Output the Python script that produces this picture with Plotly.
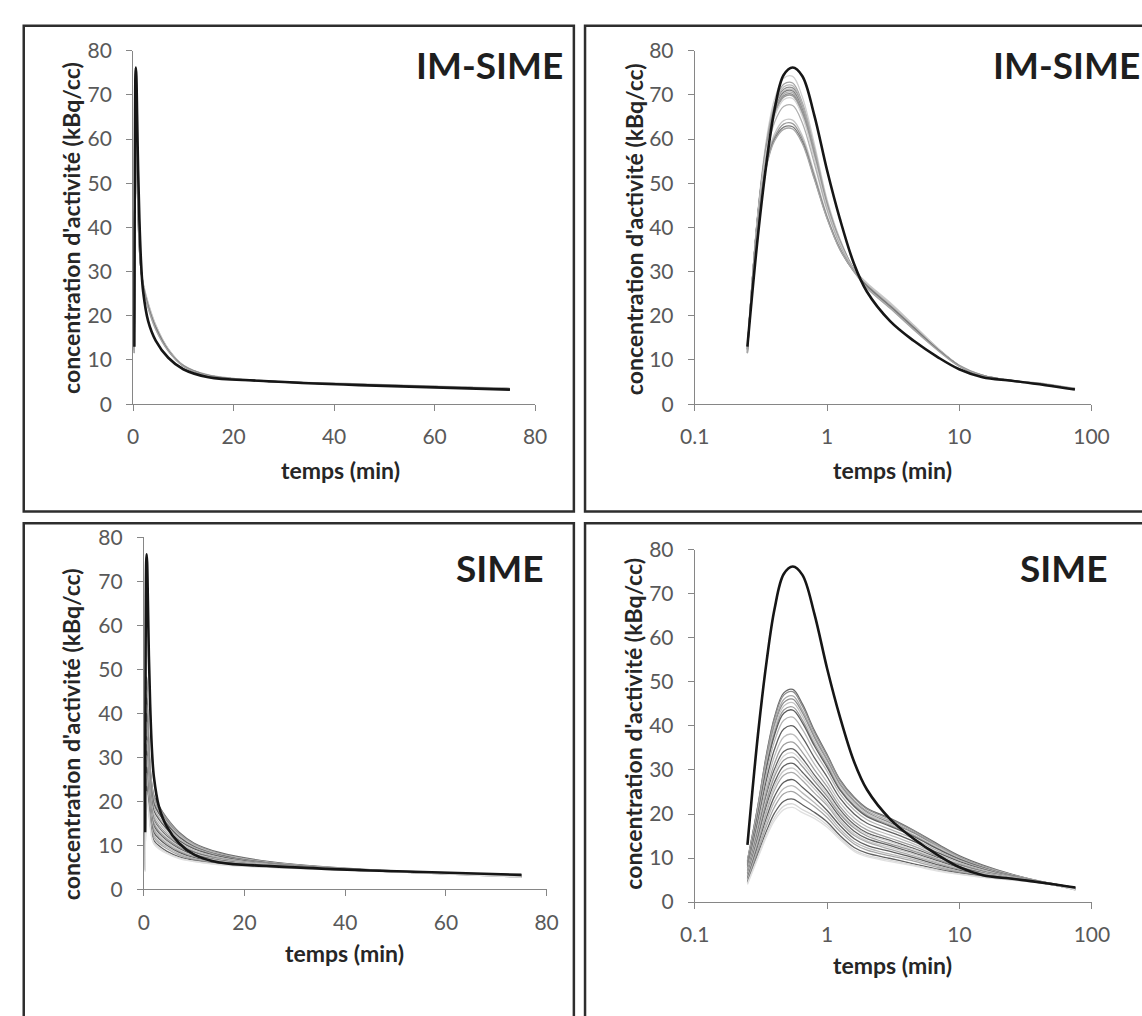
import plotly.graph_objects as go

W, H = 1142, 1016

# ---------------- data ----------------
time_min = [0.25, 0.3, 0.35, 0.4, 0.47, 0.55, 0.65, 0.8, 1.0, 1.25, 1.6, 2.0, 3.0, 4.5, 7.0, 10, 15, 25, 45, 75]

reference_curve = [13, 38, 55, 66.5, 74.5, 76.2, 74.3, 65.5, 53, 42, 31.8, 25.5, 18.8, 14.4, 10.5, 7.9, 6.1, 5.3, 4.3, 3.3]

ims_01 = [12.8, 43.5, 60.3, 68.9, 73.8, 74.2, 69.6, 59.1, 46.4, 37.5, 30.6, 27.5, 23.0, 18.0, 12.5, 8.8, 6.6, 5.4, 4.6, 3.6]
ims_02 = [12.6, 43.2, 59.5, 67.7, 72.4, 72.7, 68.3, 58.1, 45.8, 37.2, 30.5, 27.0, 22.3, 17.5, 12.3, 8.7, 6.5, 5.3, 4.5, 3.5]
ims_03 = [12.5, 43.1, 59.2, 67.2, 71.8, 72.1, 67.8, 57.7, 45.6, 37.1, 30.5, 27.2, 22.6, 17.7, 12.4, 8.7, 6.5, 5.3, 4.5, 3.5]
ims_04 = [12.5, 43.0, 58.9, 66.9, 71.3, 71.6, 67.3, 57.4, 45.4, 37.0, 30.5, 27.0, 22.3, 17.5, 12.3, 8.7, 6.5, 5.3, 4.5, 3.5]
ims_05 = [12.4, 42.9, 58.7, 66.6, 70.9, 71.2, 67.0, 57.1, 45.3, 36.9, 30.3, 26.5, 21.8, 17.0, 12.1, 8.6, 6.4, 5.2, 4.4, 3.4]
ims_06 = [12.4, 42.8, 58.5, 66.3, 70.6, 70.9, 66.7, 56.9, 45.2, 36.8, 30.5, 27.0, 22.3, 17.5, 12.3, 8.7, 6.5, 5.3, 4.5, 3.5]
ims_07 = [12.4, 42.7, 58.3, 66.0, 70.2, 70.5, 66.3, 56.6, 45.0, 36.7, 30.4, 27.1, 22.5, 17.7, 12.4, 8.8, 6.5, 5.3, 4.5, 3.5]
ims_08 = [12.3, 42.6, 58.1, 65.7, 69.8, 70.1, 66.0, 56.3, 44.9, 36.6, 30.4, 27.0, 22.3, 17.5, 12.3, 8.7, 6.5, 5.3, 4.5, 3.5]
ims_09 = [12.3, 42.6, 58.0, 65.4, 69.5, 69.8, 65.7, 56.1, 44.8, 36.6, 30.4, 26.8, 22.1, 17.3, 12.2, 8.7, 6.5, 5.3, 4.5, 3.5]
ims_10 = [12.2, 42.5, 57.6, 64.9, 68.9, 69.2, 65.2, 55.7, 44.5, 36.5, 30.4, 26.9, 22.3, 17.5, 12.3, 8.7, 6.5, 5.3, 4.5, 3.5]
ims_11 = [12.1, 42.1, 56.8, 63.7, 67.4, 67.6, 63.7, 54.6, 44.0, 36.1, 30.3, 26.9, 22.3, 17.5, 12.3, 8.7, 6.5, 5.3, 4.5, 3.5]
ims_12 = [11.7, 41.4, 55.1, 61.1, 64.2, 64.3, 60.8, 52.4, 42.7, 35.4, 30.1, 27.3, 22.8, 17.9, 12.5, 8.8, 6.6, 5.4, 4.6, 3.5]
ims_13 = [11.6, 41.3, 54.6, 60.4, 63.4, 63.5, 60.1, 51.8, 42.4, 35.3, 30.1, 26.8, 22.2, 17.4, 12.2, 8.7, 6.5, 5.3, 4.5, 3.4]
ims_14 = [11.6, 41.1, 54.3, 59.9, 62.7, 62.8, 59.5, 51.3, 42.2, 35.1, 30.0, 26.8, 22.2, 17.4, 12.2, 8.7, 6.5, 5.3, 4.5, 3.4]
ims_15 = [11.5, 41.0, 54.0, 59.5, 62.2, 62.3, 59.0, 51.0, 42.0, 35.0, 30.0, 26.3, 21.7, 16.9, 12.0, 8.6, 6.4, 5.2, 4.4, 3.4]

sime_01 = [9.5, 22.0, 34.0, 42.0, 47.5, 48.3, 45.0, 39.0, 33.5, 27.8, 23.8, 21.3, 19.0, 16.3, 13.0, 10.5, 8.4, 6.3, 4.5, 3.3]
sime_02 = [9.4, 21.8, 33.6, 41.6, 47.0, 47.8, 44.5, 38.6, 33.2, 27.6, 23.6, 21.1, 18.8, 16.2, 12.8, 10.3, 8.2, 6.2, 4.4, 3.3]
sime_03 = [9.2, 21.3, 32.9, 40.7, 46.0, 46.8, 43.6, 37.9, 32.5, 27.0, 23.1, 20.7, 18.4, 15.9, 12.6, 10.2, 8.1, 6.1, 4.4, 3.3]
sime_04 = [9.0, 21.0, 32.4, 40.1, 45.3, 46.1, 43.0, 37.4, 32.1, 26.7, 22.8, 20.4, 18.0, 15.7, 12.4, 10.1, 8.1, 6.1, 4.4, 3.3]
sime_05 = [8.9, 20.7, 31.9, 39.4, 44.5, 45.3, 42.2, 36.7, 31.7, 26.3, 22.5, 20.1, 17.7, 15.3, 12.3, 10.0, 8.0, 6.1, 4.4, 3.2]
sime_06 = [8.7, 20.2, 31.2, 38.5, 43.6, 44.3, 41.3, 36.0, 31.1, 25.7, 22.0, 19.7, 17.4, 15.1, 12.0, 9.8, 7.9, 6.0, 4.4, 3.2]
sime_07 = [8.5, 19.9, 30.7, 37.9, 42.9, 43.6, 40.7, 35.5, 30.6, 25.4, 21.7, 19.4, 17.2, 14.9, 11.9, 9.7, 7.8, 6.0, 4.4, 3.2]
sime_08 = [8.2, 19.2, 29.6, 36.5, 41.3, 42.0, 39.2, 34.3, 29.7, 24.6, 20.9, 18.7, 16.5, 14.4, 11.5, 9.5, 7.7, 5.9, 4.4, 3.2]
sime_09 = [7.8, 18.3, 28.1, 34.7, 39.3, 40.0, 37.4, 32.8, 28.4, 23.6, 20.0, 17.9, 15.9, 13.8, 11.1, 9.2, 7.5, 5.8, 4.3, 3.1]
sime_10 = [7.4, 17.5, 26.8, 33.1, 37.5, 38.1, 35.6, 31.4, 27.2, 22.6, 19.1, 17.1, 15.2, 13.2, 10.7, 8.9, 7.3, 5.7, 4.3, 3.1]
sime_11 = [7.0, 16.6, 25.5, 31.5, 35.7, 36.3, 34.0, 30.1, 26.2, 21.7, 18.3, 16.4, 14.5, 12.7, 10.3, 8.6, 7.1, 5.7, 4.3, 3.1]
sime_12 = [6.7, 16.0, 24.5, 30.2, 34.2, 34.8, 32.6, 28.9, 25.2, 21.0, 17.6, 15.7, 14.0, 12.2, 10.0, 8.4, 6.9, 5.6, 4.3, 3.0]
sime_13 = [6.5, 15.5, 23.8, 29.3, 33.2, 33.9, 31.7, 28.2, 24.6, 20.4, 17.2, 15.4, 13.7, 11.9, 9.8, 8.2, 6.8, 5.6, 4.3, 3.0]
sime_14 = [6.3, 15.1, 23.1, 28.5, 32.2, 32.9, 30.8, 27.5, 24.0, 20.0, 16.8, 15.0, 13.2, 11.6, 9.6, 8.0, 6.7, 5.5, 4.3, 3.0]
sime_15 = [6.0, 14.5, 22.1, 27.2, 30.9, 31.5, 29.5, 26.5, 23.2, 19.3, 16.1, 14.4, 12.8, 11.2, 9.3, 7.8, 6.6, 5.4, 4.3, 3.0]
sime_16 = [5.8, 14.0, 21.3, 26.3, 29.8, 30.4, 28.5, 25.7, 22.4, 18.7, 15.5, 13.9, 12.4, 10.9, 9.0, 7.6, 6.5, 5.4, 4.3, 3.0]
sime_17 = [5.6, 13.5, 20.6, 25.4, 28.8, 29.4, 27.6, 24.8, 21.9, 18.2, 15.1, 13.6, 12.0, 10.5, 8.7, 7.5, 6.4, 5.4, 4.3, 2.9]
sime_18 = [5.3, 12.8, 19.4, 24.0, 27.2, 27.8, 26.1, 23.7, 20.8, 17.4, 14.4, 12.9, 11.5, 10.1, 8.4, 7.2, 6.2, 5.3, 4.2, 2.9]
sime_19 = [5.0, 12.2, 18.5, 22.8, 25.8, 26.4, 24.8, 22.6, 20.0, 16.6, 13.7, 12.3, 10.9, 9.7, 8.1, 7.0, 6.1, 5.2, 4.2, 2.9]
sime_20 = [4.7, 11.6, 17.5, 21.6, 24.6, 25.1, 23.6, 21.7, 19.2, 16.0, 13.2, 11.8, 10.5, 9.3, 7.8, 6.8, 6.0, 5.2, 4.2, 2.9]
sime_21 = [4.4, 10.9, 16.3, 20.2, 22.9, 23.4, 22.1, 20.4, 18.2, 15.1, 12.4, 11.1, 9.9, 8.7, 7.4, 6.6, 5.8, 5.1, 4.2, 2.8]
sime_22 = [4.2, 10.4, 15.6, 19.2, 21.8, 22.3, 21.0, 19.6, 17.5, 14.6, 11.8, 10.6, 9.5, 8.4, 7.2, 6.4, 5.7, 5.0, 4.2, 2.8]
sime_23 = [4.0, 10.0, 15.0, 18.5, 21.0, 21.5, 20.3, 19.0, 17.0, 14.2, 11.5, 10.3, 9.2, 8.2, 7.0, 6.3, 5.6, 5.0, 4.2, 2.8]

ims_curves = [ims_01, ims_02, ims_03, ims_04, ims_05, ims_06, ims_07, ims_08,
              ims_09, ims_10, ims_11, ims_12, ims_13, ims_14, ims_15]
sime_curves = [sime_01, sime_02, sime_03, sime_04, sime_05, sime_06, sime_07, sime_08,
               sime_09, sime_10, sime_11, sime_12, sime_13, sime_14, sime_15, sime_16,
               sime_17, sime_18, sime_19, sime_20, sime_21, sime_22, sime_23]

panel_labels = ["IM-SIME", "SIME"]
x_title = "temps (min)"
y_title = "concentration d'activité (kBq/cc)"
lin_ticks = [0, 20, 40, 60, 80]
log_ticks = [0.1, 1, 10, 100]
log_ticktext = ["0.1", "1", "10", "100"]
y_ticks = [0, 10, 20, 30, 40, 50, 60, 70, 80]

# ---------------- styles ----------------
ims_colors = ["#cfcfcf", "#a3a3a3", "#b8b8b8", "#8e8e8e", "#c2c2c2", "#7f7f7f", "#adadad",
              "#8a8a8a", "#9b9b9b", "#d2d2d2", "#b0b0b0", "#c6c6c6", "#9a9a9a", "#7a7a7a", "#a6a6a6"]
sime_colors = ["#6a6a6a", "#8f8f8f", "#a9a9a9", "#8c8c8c", "#c3c3c3", "#9c9c9c", "#5e5e5e",
               "#b5b5b5", "#606060", "#bdbdbd", "#a0a0a0", "#666666", "#d4d4d4", "#9a9a9a",
               "#636363", "#c9c9c9", "#aaaaaa", "#5f5f5f", "#b9b9b9", "#a5a5a5", "#616161",
               "#d7d7d7", "#e0e0e0"]

FONT = "Lato"
AXIS_GREY = "#868686"
TICK_COL = "#595959"
TITLE_SIZE = 23

fig = go.Figure()


def px_x(px):
    return px / W


def px_y(py):
    return 1 - py / H


panels = [
    dict(x=(121.6, 535.6), y=(37.7, 400.0), log=False, curves=ims_curves, colors=ims_colors),
    dict(x=(700.0, 1108.5), y=(37.7, 400.0), log=True, curves=ims_curves, colors=ims_colors),
    dict(x=(132.7, 547.4), y=(536.7, 897.5), log=False, curves=sime_curves, colors=sime_colors),
    dict(x=(700.0, 1109.0), y=(549.3, 910.5), log=True, curves=sime_curves, colors=sime_colors),
]

for i, p in enumerate(panels):
    xa = "x" if i == 0 else f"x{i+1}"
    ya = "y" if i == 0 else f"y{i+1}"
    for c, col in zip(p["curves"], p["colors"]):
        fig.add_trace(go.Scatter(x=time_min, y=c, mode="lines", xaxis=xa, yaxis=ya,
                                 line=dict(color=col, width=1.3, shape="spline", smoothing=1.0),
                                 showlegend=False, hoverinfo="skip"))
    fig.add_trace(go.Scatter(x=time_min, y=reference_curve, mode="lines", xaxis=xa, yaxis=ya,
                             line=dict(color="#161616", width=2.6, shape="spline", smoothing=1.0),
                             showlegend=False, hoverinfo="skip"))

    xkey = "xaxis" if i == 0 else f"xaxis{i+1}"
    ykey = "yaxis" if i == 0 else f"yaxis{i+1}"
    common = dict(showline=True, linecolor=AXIS_GREY, linewidth=1, ticks="outside",
                  ticklen=6, tickcolor=AXIS_GREY, tickwidth=1, showgrid=False, zeroline=False,
                  tickfont=dict(family=FONT, size=21, color=TICK_COL), fixedrange=True)
    xd = [px_x(p["x"][0]), px_x(p["x"][1])]
    yd = [px_y(p["y"][1]), px_y(p["y"][0])]
    if p["log"]:
        xconf = dict(type="log", range=[-1, 2], tickvals=log_ticks, ticktext=log_ticktext)
    else:
        xconf = dict(type="linear", range=[0, 80], tickvals=lin_ticks)
    fig.layout[xkey] = dict(domain=xd, anchor=ya, ticklabelstandoff=8, **xconf, **common)
    fig.layout[ykey] = dict(domain=yd, anchor=xa, range=[0, 80], tickvals=y_ticks,
                            ticklabelstandoff=10, **common)

# panel frames (right and bottom sides run past the page edge, as in the cropped original)
box_col = "#2e2e2e"
boxes = [(9, 12, 575.5, 510), (587, 12, 1250, 510), (9, 522, 575.5, 1100), (587, 522, 1250, 1100)]
for (x0, y0, x1, y1) in boxes:
    fig.add_shape(type="rect", xref="paper", yref="paper",
                  x0=px_x(x0), x1=px_x(x1), y0=px_y(y1), y1=px_y(y0),
                  line=dict(color=box_col, width=2.5), fillcolor="rgba(0,0,0,0)")

ann = []
for (cx, cy) in [(335, 468), (904, 468), (339, 963), (904, 975)]:
    ann.append(dict(x=px_x(cx), y=px_y(cy), xref="paper", yref="paper", text=f"<b>{x_title}</b>",
                    showarrow=False, xanchor="center", yanchor="middle",
                    font=dict(family=FONT, size=TITLE_SIZE, color="#262626")))
for (cx, cy) in [(57, 219), (637, 221), (57, 738), (636, 728)]:
    ann.append(dict(x=px_x(cx), y=px_y(cy), xref="paper", yref="paper", text=f"<b>{y_title}</b>",
                    showarrow=False, xanchor="center", yanchor="middle", textangle=-90,
                    font=dict(family=FONT, size=TITLE_SIZE, color="#262626")))
for (cx, cy, lab, anc) in [(566, 52, panel_labels[0], "right"), (1005, 52, panel_labels[0], "left"),
                           (547, 567, panel_labels[1], "right"), (1128, 567, panel_labels[1], "right")]:
    ann.append(dict(x=px_x(cx), y=px_y(cy), xref="paper", yref="paper", text=f"<b>{lab}</b>",
                    showarrow=False, xanchor=anc, yanchor="middle",
                    font=dict(family=FONT, size=37, color="#1e1e1e")))

fig.update_layout(width=W, height=H, margin=dict(l=0, r=0, t=0, b=0),
                  paper_bgcolor="white", plot_bgcolor="white", annotations=ann,
                  showlegend=False)

fig.write_html("out.html", config={"displayModeBar": False},
               post_script="document.documentElement.style.margin='0';document.body.style.margin='0';document.body.style.padding='0';document.body.style.overflow='hidden';")
